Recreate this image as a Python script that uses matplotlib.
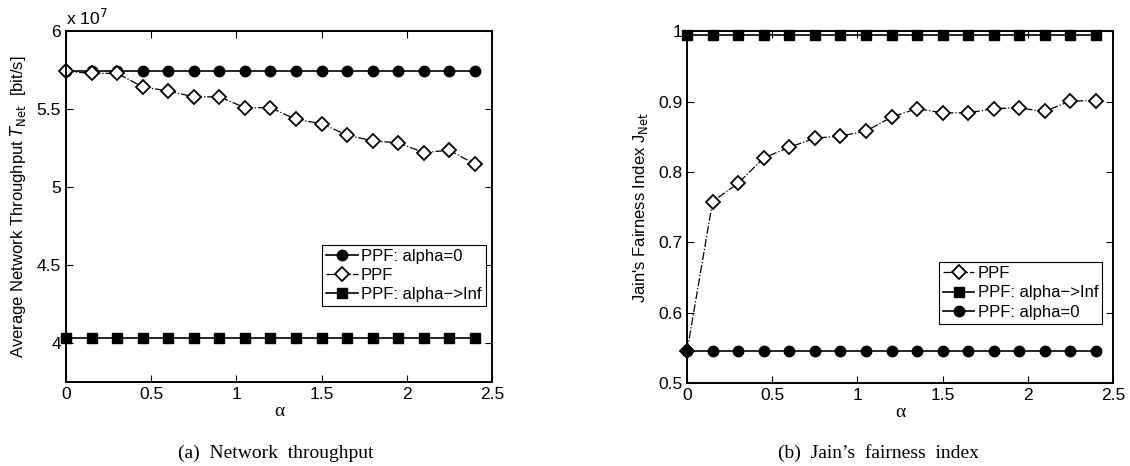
import numpy as np
import matplotlib
matplotlib.use('Agg')
import matplotlib.pyplot as plt
from matplotlib.ticker import FuncFormatter

# =========================================================
# data
# =========================================================
alpha = [0, 0.15, 0.3, 0.45, 0.6, 0.75, 0.9, 1.05, 1.2, 1.35, 1.5,
         1.65, 1.8, 1.95, 2.1, 2.25, 2.4]

# (a) network throughput [bit/s]
thr_ppf = [5.744e7, 5.729e7, 5.730e7, 5.643e7, 5.617e7, 5.579e7, 5.579e7,
           5.510e7, 5.510e7, 5.434e7, 5.408e7, 5.333e7, 5.297e7, 5.284e7,
           5.222e7, 5.237e7, 5.147e7]
thr_alpha0 = [5.744e7] * 17
thr_inf = [4.032e7] * 17

# (b) Jain's fairness index
jain_ppf = [0.545, 0.758, 0.784, 0.820, 0.835, 0.848, 0.851, 0.858, 0.878,
            0.890, 0.884, 0.884, 0.890, 0.891, 0.886, 0.901, 0.901]
jain_alpha0 = [0.545] * 17
jain_inf = [0.994] * 17

# =========================================================
# style
# =========================================================
plt.rcParams['font.family'] = ['Liberation Sans', 'DejaVu Sans']
plt.rcParams['font.size'] = 11

fig = plt.figure(figsize=(11.3, 4.66), dpi=100)
ax1 = fig.add_axes([0.0584, 0.180, 0.377, 0.753])
ax2 = fig.add_axes([0.608, 0.178, 0.377, 0.755])

circ = dict(color='black', marker='o', markersize=7.5, linewidth=1.2,
            linestyle='-')
sq = dict(color='black', marker='s', markersize=6.5, linewidth=1.2,
          linestyle='-')
dia = dict(color='black', marker='D', markersize=7.5, linewidth=0.9,
           linestyle='-.', markerfacecolor='white', markeredgewidth=1.3)


def style_axes(ax):
    ax.tick_params(direction='in', top=True, right=True, length=5,
                   width=0.8, labelsize=12.5)
    for sp in ax.spines.values():
        sp.set_linewidth(1.4)
    ax.set_xlim(0, 2.5)
    ax.set_xticks([0, 0.5, 1, 1.5, 2, 2.5])
    ax.xaxis.set_major_formatter(FuncFormatter(lambda v, p: f'{v:g}'))
    ax.set_xlabel('α', family='Liberation Serif', fontsize=14, labelpad=1)


# ---------------- (a) ----------------
ax1.plot(alpha, thr_alpha0, label='PPF: alpha=0', clip_on=False, **circ)
ax1.plot(alpha, thr_ppf, label='PPF', clip_on=False, **dia)
ax1.plot(alpha, thr_inf, label='PPF: alpha\u2212>Inf', clip_on=False, **sq)
style_axes(ax1)
ax1.set_ylim(3.75e7, 6e7)
ax1.set_yticks([4e7, 4.5e7, 5e7, 5.5e7, 6e7])
ax1.yaxis.set_major_formatter(FuncFormatter(lambda v, p: f'{v / 1e7:g}'))
ax1.text(0.0, 1.008, r'x 10$^{7}$', transform=ax1.transAxes, fontsize=12.5,
         ha='left', va='bottom')
ax1.set_ylabel(r'Average Network Throughput $T_{\mathrm{Net}}$  [bit/s]',
               fontsize=12, labelpad=6)
ax1.legend(loc='upper right', bbox_to_anchor=(0.985, 0.392), fontsize=12,
           frameon=True, fancybox=False, edgecolor='black', framealpha=1,
           handlelength=1.9, handletextpad=0.2, borderpad=0.25,
           labelspacing=0.25, borderaxespad=0).get_frame().set_linewidth(0.8)

# ---------------- (b) ----------------
ax2.plot(alpha, jain_ppf, label='PPF', clip_on=False, **dia)
ax2.plot(alpha, jain_inf, label='PPF: alpha\u2212>Inf', clip_on=False, **sq)
ax2.plot(alpha, jain_alpha0, label='PPF: alpha=0', clip_on=False, **circ)
style_axes(ax2)
ax2.set_ylim(0.5, 1.0)
ax2.set_yticks([0.5, 0.6, 0.7, 0.8, 0.9, 1.0])
ax2.yaxis.set_major_formatter(FuncFormatter(lambda v, p: f'{v:g}'))
ax2.set_ylabel(r"Jain's Fairness Index J$_{\mathrm{Net}}$", fontsize=12,
               labelpad=6)
ax2.legend(loc='upper right', bbox_to_anchor=(0.975, 0.344), fontsize=12,
           frameon=True, fancybox=False, edgecolor='black', framealpha=1,
           handlelength=1.9, handletextpad=0.2, borderpad=0.25,
           labelspacing=0.25, borderaxespad=0).get_frame().set_linewidth(0.8)

# captions
fig.text(0.244, 0.018, '(a)  Network  throughput', family='Liberation Serif',
         fontsize=14, ha='center')
fig.text(0.777, 0.018, "(b)  Jain\u2019s  fairness  index",
         family='Liberation Serif', fontsize=14, ha='center')

plt.savefig('out.png', dpi=100)
